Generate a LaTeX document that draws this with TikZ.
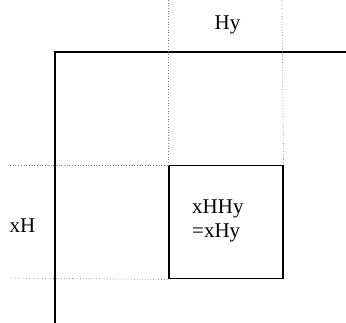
\documentclass[tikz,border=0pt]{standalone}
\usepackage{fontspec}
\setmainfont{Liberation Serif}
\usetikzlibrary{positioning}
\tikzset{
  axisline/.style={draw, line width=1.5pt},
  guideline/.style={draw, dotted, line width=0.7pt, gray},
  cellbox/.style={rectangle, draw, line width=1.5pt, minimum width=114pt,
    minimum height=113pt, inner sep=0pt},
  lbl/.style={font=\fontsize{21}{24}\selectfont, inner sep=0pt},
}
\begin{document}
\begin{tikzpicture}[x=1pt, y=-1pt]
  \useasboundingbox (0,0) rectangle (346,323);
  % axes
  \coordinate (corner) at (55,52);
  \coordinate (xend) at (346,52);
  \coordinate (yend) at (55,323);
  \draw[axisline] (xend) -- (corner) -- (yend);
  % product cell
  \node[cellbox, anchor=north west] (cell) at (168,165) {};
  % guide lines
  \coordinate (htop1) at (168,0);
  \coordinate (htop2) at (282,0);
  \coordinate (vleft1) at (10,165);
  \coordinate (vleft2) at (10,278);
  \draw[guideline] (htop1) -- (cell.north west);
  \draw[guideline] (htop2) -- (cell.north east);
  \draw[guideline] (vleft1) -- (cell.north west);
  \draw[guideline] (vleft2) -- (cell.south west);
  % labels
  \node[lbl, anchor=base] (hy) at (227.5,30) {Hy};
  \node[lbl, anchor=base] (xh) at (22.5,233) {xH};
  \node[lbl, align=left, anchor=base west] (prod) at (192,238) {xHHy\\=xHy};
\end{tikzpicture}
\end{document}
